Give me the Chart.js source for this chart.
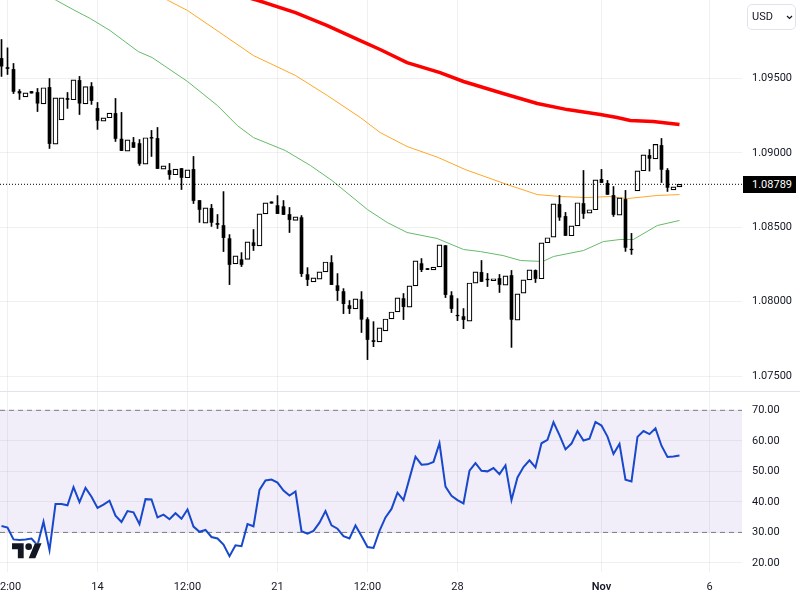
<!DOCTYPE html>
<html>
<head>
<meta charset="utf-8">
<script src="https://cdn.jsdelivr.net/npm/chart.js@4"></script>
<style>
  body { margin: 0; background: #fff; width: 800px; height: 600px; overflow: hidden; position: relative; font-family: Roboto, sans-serif; }
  canvas { position: absolute; left: 0; }
  #priceChart { top: 0; }
  #rsiChart { top: 392px; }
  #sep { position: absolute; left: 0; top: 391px; width: 800px; height: 1px; background: #e0e3eb; }
  #lastPrice { position: absolute; left: 743px; top: 176px; width: 44px; padding-left: 9px; height: 17px; line-height: 17px; background: #000; color: #fff; font-size: 11px; }
  #currency { position: absolute; left: 747px; top: 4px; width: 47px; height: 24px; box-sizing: content-box; border: 1px solid #e0e3eb; border-radius: 5px; font-size: 11px; line-height: 24px; color: #131722; }
  #currency span { position: absolute; left: 4px; }
  #currency svg { position: absolute; left: 38px; top: 10px; }
  #logo { position: absolute; left: 12px; top: 540px; }
</style>
</head>
<body>
<canvas id="priceChart" width="800" height="391"></canvas>
<div id="sep"></div>
<canvas id="rsiChart" width="800" height="208"></canvas>
<div id="lastPrice">1.08789</div>
<div id="currency"><span>USD</span><svg width="7" height="5" viewBox="0 0 7 5"><path d="M1 1l2.5 2.5L6 1" fill="none" stroke="#131722" stroke-width="1.2"/></svg></div>
<svg id="logo" width="30" height="23.3" viewBox="0 0 36 28"><g fill="#131722" stroke="#fff" stroke-width="1" paint-order="stroke"><path d="M14 22H7V11H0V4h14v18zM28 22h-8l7.5-18h8L28 22z"/><circle cx="20" cy="8" r="4"/></g></svg>
<script>
const opens = [1.09635,1.09574,1.09561,1.09413,1.09377,1.09413,1.09406,1.09330,1.09440,1.09059,1.09222,1.09366,1.09357,1.09487,1.09330,1.09446,1.09299,1.09214,1.09236,1.09265,1.09093,1.09012,1.09070,1.09063,1.08925,1.09104,1.09097,1.08891,1.08882,1.08853,1.08895,1.08833,1.08889,1.08680,1.08528,1.08627,1.08526,1.08512,1.08424,1.08254,1.08283,1.08285,1.08397,1.08375,1.08590,1.08671,1.08646,1.08639,1.08586,1.08547,1.08565,1.08182,1.08133,1.08151,1.08200,1.08263,1.08108,1.08068,1.07974,1.07952,1.08014,1.07880,1.07739,1.07730,1.07804,1.07884,1.07931,1.08021,1.07963,1.08106,1.08256,1.08223,1.08214,1.08234,1.08377,1.08041,1.07909,1.07900,1.07869,1.08125,1.08197,1.08152,1.08141,1.08156,1.08111,1.08176,1.07876,1.08058,1.08147,1.08210,1.08154,1.08396,1.08434,1.08654,1.08573,1.08443,1.08510,1.08660,1.08595,1.08618,1.08822,1.08795,1.08714,1.08582,1.08687,1.08353,1.08745,1.08880,1.08983,1.08960,1.09050,1.08882,1.08752,1.08772];
const highs = [1.09762,1.09706,1.09601,1.09426,1.09404,1.09413,1.09433,1.09438,1.09500,1.09370,1.09370,1.09406,1.09491,1.09514,1.09446,1.09473,1.09339,1.09236,1.09267,1.09366,1.09272,1.09088,1.09104,1.09090,1.09102,1.09151,1.09171,1.08913,1.08929,1.08891,1.08895,1.08886,1.08976,1.08680,1.08631,1.08654,1.08586,1.08740,1.08451,1.08308,1.08330,1.08402,1.08485,1.08590,1.08664,1.08671,1.08713,1.08680,1.08633,1.08570,1.08579,1.08229,1.08160,1.08200,1.08267,1.08310,1.08189,1.08088,1.08008,1.08019,1.08068,1.07893,1.07866,1.07824,1.07884,1.07931,1.08026,1.08055,1.08106,1.08274,1.08290,1.08223,1.08232,1.08382,1.08377,1.08068,1.08021,1.07954,1.08126,1.08201,1.08277,1.08190,1.08154,1.08183,1.08174,1.08210,1.08053,1.08147,1.08214,1.08214,1.08396,1.08430,1.08658,1.08714,1.08600,1.08510,1.08665,1.08882,1.08618,1.08819,1.08889,1.08815,1.08774,1.08698,1.08748,1.08459,1.08880,1.08987,1.09023,1.09057,1.09097,1.08895,1.08772,1.08789];
const lows = [1.09514,1.09527,1.09399,1.09359,1.09377,1.09402,1.09278,1.09330,1.09030,1.09059,1.09222,1.09299,1.09357,1.09258,1.09330,1.09326,1.09158,1.09214,1.09236,1.09077,1.09016,1.09012,1.09037,1.08916,1.08925,1.08976,1.08895,1.08891,1.08822,1.08853,1.08754,1.08833,1.08660,1.08533,1.08528,1.08506,1.08492,1.08337,1.08115,1.08254,1.08236,1.08285,1.08344,1.08375,1.08590,1.08662,1.08592,1.08586,1.08465,1.08547,1.08169,1.08108,1.08133,1.08151,1.08200,1.08115,1.08008,1.07920,1.07920,1.07952,1.07793,1.07611,1.07698,1.07730,1.07804,1.07884,1.07931,1.07880,1.07963,1.08106,1.08202,1.08216,1.08214,1.08234,1.08028,1.07927,1.07873,1.07819,1.07869,1.08125,1.08136,1.08102,1.08141,1.08062,1.08111,1.07693,1.07876,1.08058,1.08147,1.08129,1.08154,1.08396,1.08434,1.08546,1.08445,1.08443,1.08510,1.08559,1.08595,1.08618,1.08801,1.08721,1.08573,1.08582,1.08338,1.08318,1.08745,1.08880,1.08878,1.08960,1.08801,1.08741,1.08752,1.08772];
const closes = [1.09583,1.09567,1.09413,1.09402,1.09404,1.09402,1.09334,1.09438,1.09063,1.09370,1.09370,1.09359,1.09491,1.09334,1.09446,1.09352,1.09218,1.09236,1.09267,1.09097,1.09016,1.09088,1.09037,1.08929,1.09102,1.09099,1.08895,1.08913,1.08855,1.08891,1.08835,1.08886,1.08680,1.08620,1.08631,1.08533,1.08519,1.08431,1.08250,1.08308,1.08250,1.08402,1.08377,1.08590,1.08664,1.08662,1.08592,1.08586,1.08552,1.08570,1.08189,1.08149,1.08160,1.08200,1.08267,1.08115,1.08075,1.07987,1.07954,1.08019,1.07882,1.07746,1.07732,1.07824,1.07884,1.07931,1.08026,1.07967,1.08106,1.08274,1.08216,1.08216,1.08232,1.08382,1.08048,1.07954,1.07905,1.07880,1.08126,1.08201,1.08136,1.08147,1.08154,1.08116,1.08174,1.07881,1.08053,1.08147,1.08214,1.08156,1.08396,1.08430,1.08658,1.08568,1.08445,1.08510,1.08665,1.08593,1.08618,1.08819,1.08801,1.08721,1.08586,1.08698,1.08365,1.08349,1.08880,1.08987,1.08963,1.09057,1.08889,1.08768,1.08772,1.08789];

const greenIdx = [8.1,9.2,11.9,14.8,18.1,22.8,25.1,31,36,39.3,42,47.3,51.5,55.1,61,64.3,67.6,72.6,77,79.8,83.6,86.5,90.2,92,97,100.3,103.1,105.3,109.3,113];
const greenVals = [1.10051,1.10024,1.09964,1.09903,1.09822,1.09681,1.09641,1.09480,1.09318,1.09184,1.09103,1.09016,1.08915,1.08814,1.08619,1.08532,1.08465,1.08425,1.08351,1.08337,1.08310,1.08277,1.08270,1.08304,1.08344,1.08404,1.08418,1.08418,1.08512,1.08546];
const orangeIdx = [25.6,27.8,31,36.4,42,49,54.3,59.8,63.1,67.6,72.8,77.3,84.3,89.3,93.1,97.6,101.4,104.3,109.3,113];
const orangeVals = [1.10078,1.10024,1.09957,1.09809,1.09654,1.09520,1.09386,1.09238,1.09137,1.09043,1.08969,1.08888,1.08787,1.08720,1.08707,1.08700,1.08707,1.08693,1.08714,1.08720];
const redIdx = [39.8,42.8,49,54.3,59.8,63.1,67.6,73.1,77,83.6,89.3,94.3,99.8,102.6,104.8,108.6,113];
const redVals = [1.10058,1.10024,1.09943,1.09856,1.09755,1.09695,1.09607,1.09540,1.09480,1.09399,1.09332,1.09291,1.09258,1.09238,1.09218,1.09211,1.09191];

const rsiVals = [32.1,31.6,27.7,27.5,27.7,28.0,25.8,33.5,24.2,39.3,39.3,38.9,44.8,39.9,44.6,41.7,38.0,39.1,40.4,35.5,33.4,37.0,36.6,32.7,40.9,40.8,34.9,35.8,34.3,36.3,34.5,37.5,31.9,30.2,30.8,28.5,28.0,26.0,22.2,25.8,25.5,32.7,32.0,43.9,47.0,47.3,46.3,43.7,42.1,43.4,30.4,29.6,30.5,33.2,37.0,32.3,31.2,28.8,28.0,32.3,28.8,25.2,24.9,30.5,34.9,37.7,43.0,40.6,47.7,54.8,52.2,52.3,53.1,59.2,45.0,42.0,40.6,39.5,50.2,52.7,50.2,50.0,51.1,49.1,52.0,40.6,48.0,51.4,53.6,51.3,59.2,60.3,66.1,61.9,57.2,59.1,63.2,60.1,60.7,66.2,65.0,61.4,55.7,59.0,47.3,46.7,61.3,63.2,62.2,64.1,58.4,54.7,54.9,55.2];

const priceTicks = [1.095,1.09,1.085,1.08,1.075];
const rsiTicks = [70,60,50,40,30,20];
const xTickIdx = [1,16,31,46,61,76,100,118];
const xTickLabels = ['12:00','14','12:00','21','12:00','28','Nov','6'];
const lastClose = 1.08789;
const rsiUpper = 70;
const rsiLower = 30;

const xMin = -0.25, xMax = 123.42;
const gridColor = 'rgba(42,46,57,0.07)';
const tickFont = { family: 'Roboto', size: 11 };
const textColor = '#131722';

const toPoints = (idx, vals) => idx.map((x, i) => ({ x: x, y: vals[i] }));
const flatLine = v => [{ x: xMin, y: v }, { x: xMax, y: v }];

const candleIdx = opens.map((_, i) => i);
const upIdx = candleIdx.filter(i => closes[i] >= opens[i]);
const downIdx = candleIdx.filter(i => closes[i] < opens[i]);

const wickSet = (list, color) => ({
    type: 'bar', order: 3, grouped: false, barThickness: 1, backgroundColor: color, borderWidth: 0,
    data: list.map(i => ({ x: i, y: [lows[i], highs[i]] }))
});
const lineSet = (data, color, width, order) => ({
    type: 'line', order: order, data: data, borderColor: color, borderWidth: width,
    pointRadius: 0, tension: 0, fill: false
});

const xAxis = showLabels => ({
    type: 'linear', min: xMin, max: xMax, offset: false,
    afterBuildTicks: s => { s.ticks = xTickIdx.map(v => ({ value: v })); },
    afterFit: s => { s.paddingLeft = 0; s.paddingRight = 0; s.height = showLabels ? 28 : 0; },
    grid: { color: gridColor, drawTicks: false, offset: false },
    border: { display: false },
    ticks: {
        display: showLabels, autoSkip: false, maxRotation: 0, padding: 9, color: textColor,
        font: c => ({ family: 'Roboto', size: 11, weight: c.tick && c.tick.value === 100 ? '600' : '400' }),
        callback: v => xTickLabels[xTickIdx.indexOf(v)]
    }
});
const yAxis = (min, max, ticks, digits) => ({
    position: 'right', min: min, max: max,
    afterBuildTicks: s => { s.ticks = ticks.map(v => ({ value: v })); },
    afterFit: s => { s.width = 58; s.paddingTop = 0; s.paddingBottom = 0; },
    grid: { color: gridColor, drawTicks: false },
    border: { display: false },
    ticks: { crossAlign: 'near', padding: 10, color: textColor, font: tickFont, callback: v => v.toFixed(digits) }
});
const baseOptions = {
    responsive: false, animation: false, devicePixelRatio: 1,
    layout: { padding: 0 },
    plugins: { legend: { display: false }, tooltip: { enabled: false } }
};

new Chart(document.getElementById('priceChart'), {
    data: {
        datasets: [
            lineSet(toPoints(greenIdx, greenVals), '#66bb6a', 1, 6),
            lineSet(toPoints(orangeIdx, orangeVals), '#ffa726', 1, 6),
            lineSet(toPoints(redIdx, redVals), '#ff0000', 3.5, 6),
            wickSet(upIdx, '#ffffff'),
            wickSet(downIdx, '#000000'),
            {
                type: 'bar', order: 2, grouped: false, barThickness: 5,
                backgroundColor: '#ffffff', borderColor: '#000000', borderWidth: 1.2, borderSkipped: false,
                data: upIdx.map(i => ({ x: i, y: [opens[i], closes[i]] }))
            },
            {
                type: 'bar', order: 2, grouped: false, barThickness: 3,
                backgroundColor: '#000000', borderWidth: 0,
                data: downIdx.map(i => ({ x: i, y: [closes[i], opens[i]] }))
            },
            Object.assign(lineSet(flatLine(lastClose), '#000000', 1, 1), { borderDash: [1, 2] })
        ]
    },
    options: Object.assign({}, baseOptions, {
        scales: { x: xAxis(false), y: yAxis(1.073999, 1.100276, priceTicks, 5) }
    })
});

new Chart(document.getElementById('rsiChart'), {
    data: {
        datasets: [
            Object.assign(lineSet(flatLine(rsiUpper), '#787b86', 1, 3), { borderDash: [5, 4] }),
            Object.assign(lineSet(flatLine(rsiLower), '#787b86', 1, 3), { borderDash: [5, 4], fill: { target: 0 }, backgroundColor: 'rgba(126,87,194,0.1)' }),
            lineSet(rsiVals.map((v, i) => ({ x: i, y: v })), '#1848cc', 2, 1)
        ]
    },
    options: Object.assign({}, baseOptions, {
        scales: { x: xAxis(true), y: yAxis(17.03, 76.0, rsiTicks, 2) }
    })
});
</script>
</body>
</html>
